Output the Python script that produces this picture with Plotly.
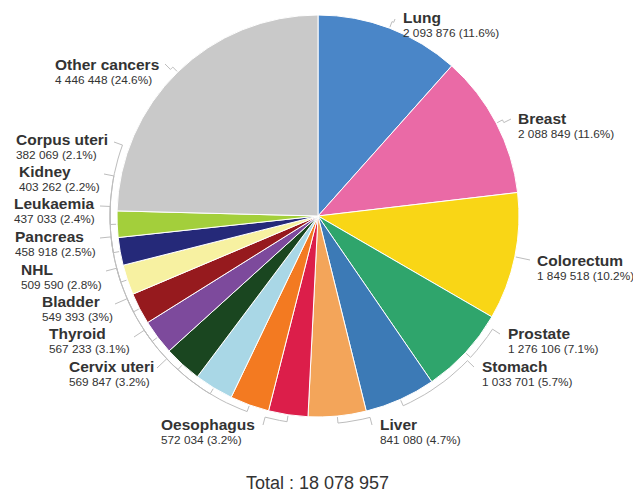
import math
import plotly.graph_objects as go

# ---------------- data ----------------
categories = ["Lung", "Breast", "Colorectum", "Prostate", "Stomach", "Liver",
              "Oesophagus", "Cervix uteri", "Thyroid", "Bladder", "NHL",
              "Pancreas", "Leukaemia", "Kidney", "Corpus uteri", "Other cancers"]
values = [2093876, 2088849, 1849518, 1276106, 1033701, 841080,
          572034, 569847, 567233, 549393, 509590,
          458918, 437033, 403262, 382069, 4446448]

# ---------------- style / layout ----------------
colors = ["#4a86c8", "#ea6aa6", "#f9d616", "#2fa56c", "#3c7ab6", "#f3a55a",
          "#dc1e4a", "#f37a21", "#a9d7e6", "#1a4620", "#7d4a9c",
          "#961a1e", "#f7f1a1", "#252979", "#a3cf3b", "#c9c9c9"]

W, H = 633, 495
CX, CY, R = 318, 216, 201

# label placement in pixels: text_x, name_y, line attach x, attach y
label_layout = [
    (403, 17, 395, 19),
    (518, 118, 511, 119),
    (537, 260, 530, 260),
    (508, 333, 500, 334),
    (482, 366, 474, 367),
    (380, 424, 372, 425),
    (161, 424, 263, 425),
    (69, 366, 157, 368),
    (49, 333, 134, 337),
    (42, 301, 115, 304),
    (21, 269, 106, 271),
    (15, 236, 100, 238),
    (14, 203, 100, 206),
    (19, 171, 104, 174),
    (16, 139, 114, 142),
    (55, 64, 165, 64),
]

TEXT = "#333333"
FONT = "Liberation Sans, Arial, sans-serif"
LINE = "#bdbdbd"
PAD = 2  # annotation inner padding offset

total = sum(values)


def fmt_int(v):
    return f"{v:,}".replace(",", " ")


def fmt_pct(v):
    p = round(v / total * 100, 1)
    s = f"{p:.1f}"
    if s.endswith(".0"):
        s = s[:-2]
    return s + "%"


def pt(theta_deg, r):
    t = math.radians(theta_deg)
    return CX + r * math.sin(t), CY - r * math.cos(t)


fig = go.Figure()

fig.add_trace(go.Pie(
    labels=categories, values=values, sort=False, direction="clockwise",
    rotation=0, marker=dict(colors=colors, line=dict(color="white", width=1)),
    textinfo="none", hoverinfo="label+value+percent", showlegend=False,
    domain=dict(x=[(CX - R) / W, (CX + R) / W], y=[1 - (CY + R) / H, 1 - (CY - R) / H]),
))

annotations = []
cum = 0
for i, (name, v) in enumerate(zip(categories, values)):
    mid = (cum + v / 2) / total * 360
    cum += v
    tx, ny, ax, ay = label_layout[i]
    # leader line: radial tick, arc along the rim, then to label
    ra = R + 7
    xs, ys = [], []
    x0, y0 = pt(mid, R + 1)
    xs.append(x0); ys.append(y0)
    x1, y1 = pt(mid, ra)
    xs.append(x1); ys.append(y1)
    att_ang = math.degrees(math.atan2(ax - CX, -(ay - CY))) % 360
    d = att_ang - mid
    if d > 180:
        d -= 360
    if d < -180:
        d += 360
    n = max(2, int(abs(d) / 2))
    for k in range(1, n + 1):
        a = mid + d * k / n
        xa, ya = pt(a, ra)
        xs.append(xa); ys.append(ya)
    xs.append(ax); ys.append(ay)
    fig.add_trace(go.Scatter(x=xs, y=ys, mode="lines", line=dict(color=LINE, width=1),
                             hoverinfo="skip", showlegend=False))
    annotations.append(dict(x=tx - PAD, y=ny, xref="x", yref="y", xanchor="left", yanchor="middle",
                            text=f"<b>{name}</b>", showarrow=False,
                            font=dict(family=FONT, size=15.5, color=TEXT)))
    annotations.append(dict(x=tx - PAD, y=ny + 16, xref="x", yref="y", xanchor="left", yanchor="middle",
                            text=f"{fmt_int(v)} ({fmt_pct(v)})", showarrow=False,
                            font=dict(family=FONT, size=11.8, color=TEXT)))

annotations.append(dict(x=317, y=483, xref="x", yref="y", xanchor="center", yanchor="middle",
                        text=f"Total : {fmt_int(total)}", showarrow=False,
                        font=dict(family=FONT, size=18, color=TEXT)))

fig.update_layout(
    width=W, height=H, margin=dict(l=0, r=0, t=0, b=0),
    paper_bgcolor="white", plot_bgcolor="white",
    xaxis=dict(range=[0, W], visible=False, fixedrange=True, domain=[0, 1]),
    yaxis=dict(range=[H, 0], visible=False, fixedrange=True, domain=[0, 1]),
    annotations=annotations, showlegend=False,
)

fig.write_html("out.html")
